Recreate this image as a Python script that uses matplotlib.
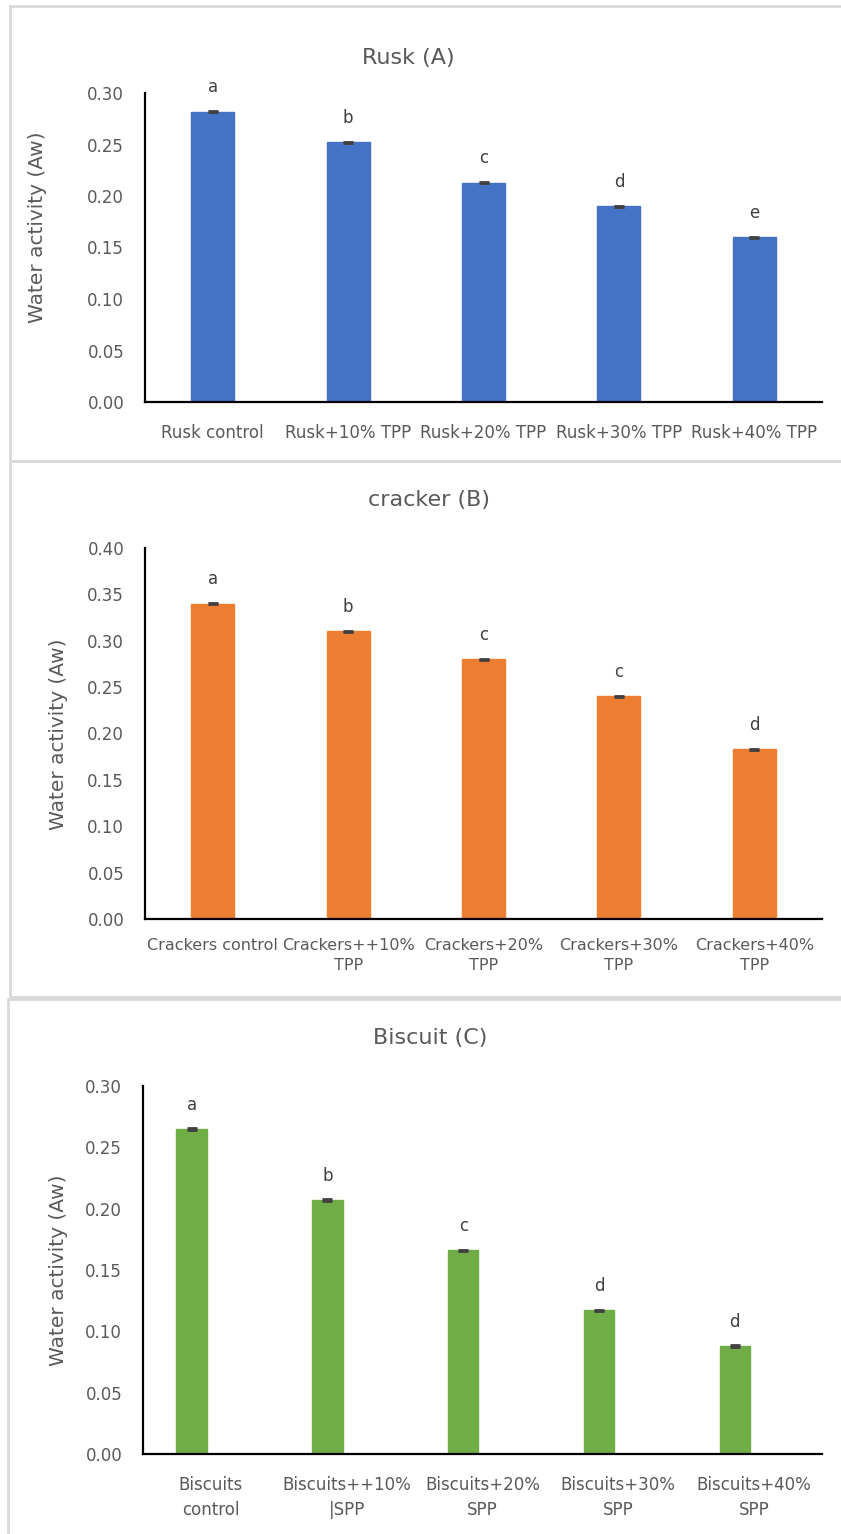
import numpy as np
import matplotlib
matplotlib.use("Agg")
import matplotlib.pyplot as plt
from matplotlib.patches import Rectangle

# data
rusk_labels = ["Rusk control", "Rusk+10% TPP", "Rusk+20% TPP", "Rusk+30% TPP", "Rusk+40% TPP"]
rusk_aw = [0.282, 0.252, 0.213, 0.190, 0.160]
rusk_letters = ["a", "b", "c", "d", "e"]

cracker_labels = ["Crackers control", "Crackers++10%\nTPP", "Crackers+20%\nTPP", "Crackers+30%\nTPP", "Crackers+40%\nTPP"]
cracker_aw = [0.340, 0.310, 0.280, 0.240, 0.183]
cracker_letters = ["a", "b", "c", "c", "d"]

biscuit_labels = ["Biscuits\ncontrol", "Biscuits++10%\n|SPP", "Biscuits+20%\nSPP", "Biscuits+30%\nSPP", "Biscuits+40%\nSPP"]
biscuit_aw = [0.265, 0.207, 0.166, 0.117, 0.088]
biscuit_letters = ["a", "b", "c", "d", "d"]

err = 0.0005  # sd is almost nil in the source

W, H = 841, 1534
fig = plt.figure(figsize=(W / 100, H / 100), dpi=100)
grey = "#595959"

def add_ax(l, r, t, b):
    return fig.add_axes([l / W, 1 - b / H, (r - l) / W, (b - t) / H])

def panel_box(x0, y0, y1):
    fig.patches.append(Rectangle((x0 / W, 1 - y1 / H), (W + 10 - x0) / W, (y1 - y0) / H,
                                 transform=fig.transFigure, fill=False,
                                 edgecolor="#d9d9d9", linewidth=2))

def draw(ax, labels, vals, letters, color, ymax, width, shift, title, tx, ty, lx, ly, lpad, xsize, lsp):
    x = np.arange(len(vals))
    ax.bar(x + shift, vals, width=width, color=color, edgecolor=color, zorder=2)
    ax.errorbar(x + shift, vals, yerr=err, fmt="none", ecolor="#404040",
                capsize=3.5, capthick=2, elinewidth=1, zorder=3)
    for xi, v, s in zip(x, vals, letters):
        ax.annotate(s, (xi + shift, v), xytext=(0, 11), textcoords="offset points",
                    ha="center", va="bottom", fontsize=12, color="#404040")
    ax.set_xlim(-0.5, len(vals) - 0.5)
    ax.set_ylim(0, ymax)
    ticks = np.arange(0, ymax + 0.001, 0.05)
    ax.set_yticks(ticks)
    ax.set_yticklabels(["%.2f" % t for t in ticks])
    ax.set_xticks(x)
    ax.set_xticklabels(labels, linespacing=lsp)
    ax.tick_params(axis="both", length=0, labelsize=12, labelcolor=grey)
    ax.tick_params(axis="y", pad=15)
    ax.tick_params(axis="x", pad=lpad, labelsize=xsize)
    for sp in ["top", "right"]:
        ax.spines[sp].set_visible(False)
    for sp in ["left", "bottom"]:
        ax.spines[sp].set_color("black")
        ax.spines[sp].set_linewidth(1.6)
    fig.text(tx / W, 1 - ty / H, title, ha="center", va="center", fontsize=16, color=grey)
    fig.text(lx / W, 1 - ly / H, "Water activity (Aw)", rotation=90,
             ha="center", va="center", fontsize=14.5, color=grey)

panel_box(9.5, 6, 461)
panel_box(9.5, 461, 997)
panel_box(8, 999, H + 10)

ax1 = add_ax(145, 822, 93, 402)
draw(ax1, rusk_labels, rusk_aw, rusk_letters, "#4472C4", 0.30, 0.318, 0.0,
     "Rusk (A)", 408, 58, 38, 227, 16, 12, 1.3)

ax2 = add_ax(145, 822, 548, 919)
draw(ax2, cracker_labels, cracker_aw, cracker_letters, "#ED7D31", 0.40, 0.318, 0.0,
     "cracker (B)", 429, 500, 58, 734, 14, 11.5, 1.4)

ax3 = add_ax(143, 822, 1086, 1454)
draw(ax3, biscuit_labels, biscuit_aw, biscuit_letters, "#70AD47", 0.30, 0.225, -0.142,
     "Biscuit (C)", 430, 1038, 58, 1270, 16, 12, 1.5)

fig.savefig("out.png", dpi=100, facecolor="white")
